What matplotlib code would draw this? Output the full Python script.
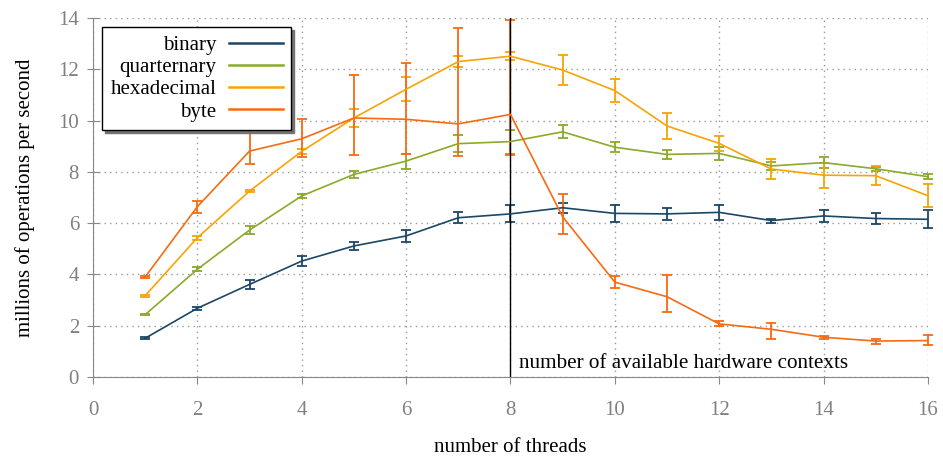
import matplotlib
matplotlib.use("Agg")
import matplotlib.pyplot as plt
from matplotlib.lines import Line2D

threads = list(range(1, 17))

binary = [1.51, 2.68, 3.61, 4.52, 5.11, 5.50, 6.21, 6.36, 6.60, 6.38, 6.36, 6.42, 6.10, 6.28, 6.18, 6.15]
binary_err = [0.03, 0.06, 0.16, 0.19, 0.16, 0.22, 0.21, 0.33, 0.20, 0.34, 0.22, 0.29, 0.08, 0.25, 0.20, 0.35]

quarternary = [2.43, 4.20, 5.73, 7.06, 7.90, 8.42, 9.10, 9.18, 9.56, 8.96, 8.68, 8.72, 8.23, 8.36, 8.12, 7.81]
quarternary_err = [0.03, 0.07, 0.16, 0.08, 0.15, 0.29, 0.33, 0.47, 0.25, 0.20, 0.18, 0.25, 0.17, 0.20, 0.08, 0.10]

hexadecimal = [3.17, 5.43, 7.25, 8.80, 10.10, 11.22, 12.30, 12.51, 11.97, 11.17, 9.79, 9.11, 8.11, 7.87, 7.85, 7.07]
hexadecimal_err = [0.04, 0.08, 0.03, 0.10, 0.37, 0.47, 0.20, 0.16, 0.57, 0.44, 0.49, 0.30, 0.40, 0.49, 0.37, 0.45]

# byte whiskers are not symmetric, so keep low / high ends
byte = [3.90, 6.64, 8.81, 9.29, 10.10, 10.05, 9.87, 10.24, 6.25, 3.70, 3.13, 2.07, 1.86, 1.55, 1.40, 1.42]
byte_low = [3.85, 6.41, 8.30, 8.59, 8.66, 8.70, 8.62, 8.67, 5.58, 3.47, 2.54, 1.97, 1.49, 1.49, 1.30, 1.24]
byte_high = [3.95, 6.87, 9.50, 10.07, 11.79, 12.26, 13.62, 13.92, 7.14, 3.93, 3.98, 2.17, 2.12, 1.61, 1.50, 1.65]

names = ["binary", "quarternary", "hexadecimal", "byte"]
colors = ["#1b4766", "#8aaa2a", "#f7a404", "#f86a12"]

hw_contexts = 8

plt.rcParams["font.family"] = ["Liberation Serif", "DejaVu Serif"]
plt.rcParams["font.size"] = 15

fig = plt.figure(figsize=(9.43, 4.58), dpi=100)
ax = fig.add_axes([0.0986, 0.1769, 0.8854, 0.7838])

byte_err = [[v - lo for v, lo in zip(byte, byte_low)],
            [hi - v for v, hi in zip(byte, byte_high)]]
series = [(binary, binary_err), (quarternary, quarternary_err),
          (hexadecimal, hexadecimal_err), (byte, byte_err)]

for (vals, errs), name, color in zip(series, names, colors):
    ax.errorbar(threads, vals, yerr=errs, color=color, linewidth=1.2,
                elinewidth=1.3, capsize=3.5, capthick=1.3, label=name, clip_on=False)

ax.axvline(hw_contexts, color="black", linewidth=1.0)
ax.text(hw_contexts + 0.16, 0.35, "number of available hardware contexts", fontsize=15.2)

ax.set_xlim(0, 16)
ax.set_ylim(0, 14)
ax.set_xticks(range(0, 17, 2))
ax.set_yticks(range(0, 15, 2))
ax.grid(True, linestyle=(0, (1, 3)), color="#999999", linewidth=1.0)

for side in ["top", "right"]:
    ax.spines[side].set_visible(False)
for side in ["left", "bottom"]:
    ax.spines[side].set_color("#888888")
ax.tick_params(axis="both", colors="#888888", labelcolor="#808080", labelsize=15)
ax.tick_params(axis="x", direction="out", length=5, pad=12)
ax.tick_params(axis="y", direction="inout", length=8, pad=6)

ax.set_xlabel("number of threads", fontsize=15, labelpad=13)
ax.set_ylabel("millions of operations per second", fontsize=15, labelpad=17)

handles = [Line2D([], [], color=c, linewidth=1.8) for c in colors]
leg = ax.legend(handles, names, loc="upper left", bbox_to_anchor=(0.011, 0.975),
                borderaxespad=0, markerfirst=False, fancybox=False, framealpha=1,
                edgecolor="black", fontsize=15, shadow={"color": "0.45", "alpha": 1},
                borderpad=0.4, labelspacing=0.13, handlelength=2.6, handletextpad=0.6)
leg.get_frame().set_linewidth(1.0)
leg._legend_box.align = "right"

fig.savefig("out.png", dpi=100)
